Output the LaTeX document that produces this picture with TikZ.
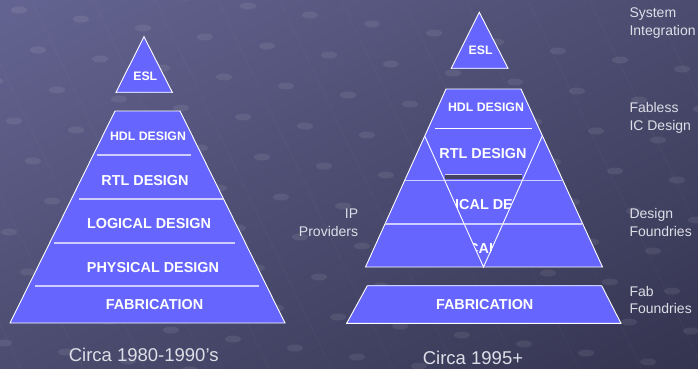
\documentclass[tikz,border=0pt]{standalone}
\usepackage{fontspec}
\setmainfont{Liberation Sans}
\usetikzlibrary{shadings}
\definecolor{layerblue}{RGB}{102,102,255}
\definecolor{rimblue}{RGB}{205,205,255}
\definecolor{slatetop}{RGB}{100,100,146}
\definecolor{slatemid}{RGB}{76,76,112}
\definecolor{slatelow}{RGB}{52,52,80}
\definecolor{stripdark}{RGB}{68,68,98}
\definecolor{sidegray}{RGB}{222,222,232}

\begin{document}
\begin{tikzpicture}[x=1pt,y=-1pt,
  layer/.style={fill=layerblue,draw=white,line width=0.9pt},
  rim/.style={draw=rimblue,line width=1.1pt},
  tag/.style={text=white,font=\bfseries\fontsize{14.4}{17}\selectfont,inner sep=0pt},
  smalltag/.style={text=white,font=\bfseries\fontsize{12.3}{15}\selectfont,inner sep=0pt},
  side/.style={text=sidegray,font=\fontsize{14}{17}\selectfont,inner sep=0pt},
  caption/.style={text=sidegray,font=\fontsize{18.5}{22}\selectfont,inner sep=0pt,anchor=base}]
\useasboundingbox (0,0) rectangle (698,368);
\shade[upper left=slatetop,upper right=slatemid,lower left=slatemid,lower right=slatelow] (0,0) rectangle (698,368);
\begin{scope}
\clip (0,0) rectangle (698,368);
\foreach \i in {-4,...,14}{
  \draw[white,opacity=0.05] ({\i*62-40},-20) -- ({\i*62+160},400);
  \foreach \j in {0,...,10}{
    \fill[white,opacity=0.08] ({\i*62+\j*19},{\j*40+\i*9-30}) ellipse (8 and 3.5);
  }
}
\end{scope}

% circa 1980-1990
\draw[layer] (144,36.7) -- (172.3,92.3) -- (116,92.3) -- cycle;
\draw[rim,line width=1.6pt] (116.5,92.3) -- (171.8,92.3);
\node[smalltag] (eslL) at (145.3,76) {ESL};
\draw[layer] (115,111) -- (180,111) -- (285,323) -- (10,323) -- cycle;
\draw[rim] (97,155) -- (191,155);
\draw[rim] (79,199) -- (223,199);
\draw[rim] (54,243) -- (235,243);
\draw[rim] (35,286) -- (259,286);
\node[smalltag] (hdlL) at (148,136) {HDL DESIGN};
\node[tag] (rtlL) at (145,181) {RTL DESIGN};
\node[tag] (logL) at (149,224) {LOGICAL DESIGN};
\node[tag] (phyL) at (153,268) {PHYSICAL DESIGN};
\node[tag] (fabL) at (154.5,305) {FABRICATION};
\node[caption] (eraL) at (143.7,361.5) {Circa 1980-1990’s};

% circa 1995+
\draw[layer] (479.3,12.3) -- (508,68.3) -- (451.3,68.3) -- cycle;
\draw[rim,line width=1.6pt] (451.8,68.3) -- (507.5,68.3);
\node[smalltag] (eslR) at (480.7,50.7) {ESL};
\draw[layer] (446,89) -- (521,89) -- (602.5,267) -- (365.5,267) -- cycle;
\draw[white,line width=0.9pt] (435,128) -- (531.7,128);
\draw[rim] (404.6,180.5) -- (562.4,180.5);
\draw[rim,line width=1.4pt] (385,224) -- (582,224);
\node[smalltag] (hdlR) at (486,107.7) {HDL DESIGN};
\node[tag] (rtlR) at (483,153.3) {RTL DESIGN};
\begin{scope}
\clip (424.7,136) -- (542.3,136) -- (483.5,267) -- cycle;
\node[tag] (logR) at (486,205) {LOGICAL DESIGN};
\node[tag] (phyR) at (491,249) {PHYSICAL DESIGN};
\end{scope}
\fill[stripdark] (445,174.5) rectangle (522,179);
\draw[rim,line width=0.6pt] (445,174.2) -- (522,174.2);
\draw[white,line width=0.9pt] (424.7,136) -- (483.5,267) -- (542.3,136);
\draw[layer] (367.3,285.7) -- (601.7,285.7) -- (621,323.3) -- (346.7,323.3) -- cycle;
\draw[rim] (367.8,285.7) -- (601.2,285.7);
\node[tag] (fabR) at (484.7,305) {FABRICATION};
\node[caption] (eraR) at (473,364) {Circa 1995+};

\node[side,anchor=base east] (ipA) at (358.3,218.3) {IP};
\node[side,anchor=base east] (ipB) at (358.3,236) {Providers};
\node[side,anchor=base west] (sysA) at (629.3,17.3) {System};
\node[side,anchor=base west] (sysB) at (629.3,35) {Integration};
\node[side,anchor=base west] (flsA) at (629.3,112.7) {Fabless};
\node[side,anchor=base west] (flsB) at (629.3,130.2) {IC Design};
\node[side,anchor=base west] (dfA) at (629.3,218.3) {Design};
\node[side,anchor=base west] (dfB) at (629.3,236) {Foundries};
\node[side,anchor=base west] (ffA) at (629.3,296) {Fab};
\node[side,anchor=base west] (ffB) at (629.3,313.5) {Foundries};
\end{tikzpicture}
\end{document}
